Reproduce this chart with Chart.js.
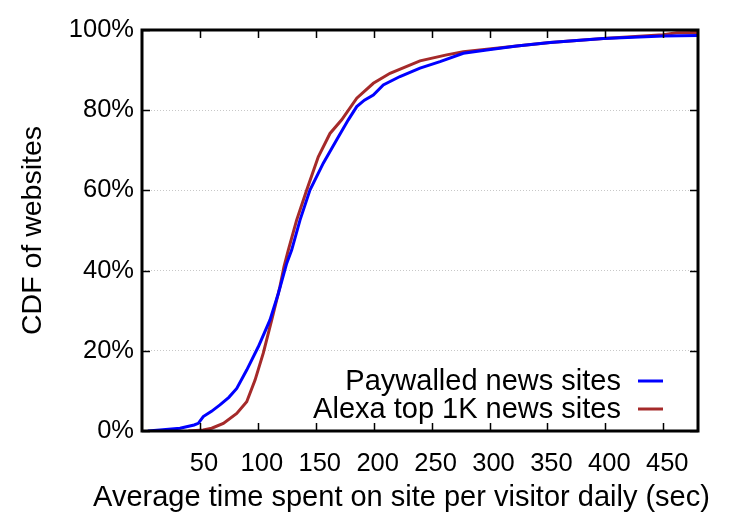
<!DOCTYPE html>
<html>
<head>
<meta charset="utf-8">
<script src="https://cdn.jsdelivr.net/npm/chart.js@4/dist/chart.umd.min.js"></script>
<style>
  html, body { margin: 0; padding: 0; background: #fff; }
  #wrap { width: 750px; height: 525px; }
</style>
</head>
<body>
<div id="wrap"><canvas id="c" width="750" height="525"></canvas></div>
<script>
// ---- data ----
const seriesLabels = ["Paywalled news sites", "Alexa top 1K news sites"];
const paywalledX = [5, 15.5, 32.8, 45, 48.6, 52.9, 60, 67.3, 75, 81.8, 90.4, 100.4, 110.5, 117.7, 124.9, 129.2, 136.4, 145.0, 156.5, 168.1, 178.1, 185.4, 192, 199.7, 208.3, 222.7, 240, 257.3, 277.4, 297.6, 323.5, 352.3, 398.3, 450, 480];
const paywalledY = [0, 0.25, 0.7, 1.5, 1.9, 3.6, 4.9, 6.5, 8.4, 10.6, 15.2, 21.0, 27.7, 34.3, 41.8, 45.1, 52.6, 60.1, 66.8, 72.6, 77.6, 80.9, 82.5, 83.8, 86.3, 88.4, 90.5, 92.1, 94.2, 95.0, 96.0, 96.9, 97.9, 98.5, 98.6];
const alexaX = [40, 52.9, 60.2, 70.2, 81.8, 90.4, 97.6, 104.7, 112.0, 119.1, 122.6, 126.3, 133.5, 142.2, 152.2, 162.3, 172.4, 185.4, 199.7, 214.1, 240.0, 263.0, 277.4, 297.6, 323.5, 352.3, 398.3, 450, 461.6, 480];
const alexaY = [0, 0.25, 0.7, 1.9, 4.4, 7.3, 12.7, 19.4, 27.7, 36.0, 41.0, 45.1, 52.6, 60.1, 68.4, 74.2, 77.6, 83.0, 86.7, 89.2, 92.3, 93.8, 94.6, 95.2, 96.0, 96.9, 97.9, 98.8, 99.3, 99.4];
const xTicks = [50, 100, 150, 200, 250, 300, 350, 400, 450];
const yTicks = [0, 20, 40, 60, 80, 100];
const xTitle = "Average time spent on site per visitor daily (sec)";
const yTitle = "CDF of websites";

const FONT = "'Liberation Sans', Arial, Helvetica, sans-serif";
const colors = ["#0000ff", "#a52a2a"];

function pts(xs, ys) { return xs.map((x, i) => ({ x: x, y: ys[i] })); }

// frame + inward ticks (gnuplot style)
const framePlugin = {
  id: 'frame',
  afterDatasetsDraw(chart) {
    const { ctx, chartArea: a, scales: { x, y } } = chart;
    ctx.save();
    ctx.strokeStyle = '#000';
    ctx.lineWidth = 1.5;
    const L = 8;
    ctx.beginPath();
    xTicks.forEach(v => {
      const px = Math.round(x.getPixelForValue(v)) + 0.5;
      ctx.moveTo(px, a.bottom); ctx.lineTo(px, a.bottom - L);
      ctx.moveTo(px, a.top); ctx.lineTo(px, a.top + L);
    });
    yTicks.forEach(v => {
      const py = Math.round(y.getPixelForValue(v)) + 0.5;
      ctx.moveTo(a.left, py); ctx.lineTo(a.left + L, py);
      ctx.moveTo(a.right, py); ctx.lineTo(a.right - L, py);
    });
    ctx.stroke();
    ctx.lineWidth = 3;
    ctx.strokeRect(a.left, a.top, a.right - a.left, a.bottom - a.top);
    ctx.restore();
  }
};

// x-axis title (wider than the plot area, so drawn unconstrained)
const xTitlePlugin = {
  id: 'xTitle',
  afterDraw(chart) {
    const { ctx } = chart;
    ctx.save();
    ctx.font = "29px " + FONT;
    ctx.fillStyle = '#000';
    ctx.textAlign = 'center';
    ctx.textBaseline = 'alphabetic';
    ctx.fillText(xTitle, 401.5, 506);
    ctx.restore();
  }
};

// legend inside plot, text right-aligned with line sample at right
const legendPlugin = {
  id: 'insideLegend',
  afterDraw(chart) {
    const { ctx } = chart;
    ctx.save();
    ctx.font = "29px " + FONT;
    ctx.textAlign = 'right';
    ctx.textBaseline = 'middle';
    const textRight = 621, lineL = 638, lineR = 663;
    const rows = [381, 409];
    chart.data.datasets.forEach((ds, i) => {
      ctx.fillStyle = '#000';
      ctx.fillText(ds.label, textRight, rows[i] + 1);
      ctx.strokeStyle = ds.borderColor;
      ctx.lineWidth = 3;
      ctx.beginPath();
      ctx.moveTo(lineL, rows[i]); ctx.lineTo(lineR, rows[i]);
      ctx.stroke();
    });
    ctx.restore();
  }
};

new Chart(document.getElementById('c'), {
  type: 'line',
  data: {
    datasets: [
      { label: seriesLabels[0], data: pts(paywalledX, paywalledY), borderColor: colors[0], backgroundColor: colors[0], borderWidth: 3, pointRadius: 0, tension: 0, fill: false },
      { label: seriesLabels[1], data: pts(alexaX, alexaY), borderColor: colors[1], backgroundColor: colors[1], borderWidth: 3, pointRadius: 0, tension: 0, fill: false }
    ]
  },
  options: {
    responsive: false,
    animation: false,
    devicePixelRatio: 1,
    layout: { padding: { top: 30, right: 52, left: 0, bottom: 0 } },
    plugins: { legend: { display: false }, tooltip: { enabled: false } },
    scales: {
      x: {
        type: 'linear', min: 0, max: 480,
        afterFit(s) { s.height = 94; },
        afterBuildTicks(s) { s.ticks = xTicks.map(v => ({ value: v })); },
        grid: { display: false, drawTicks: false },
        border: { display: false },
        ticks: { color: '#000', font: { family: FONT, size: 25.5 }, padding: 18, labelOffset: 4, maxRotation: 0, autoSkip: false },
        title: { display: false, text: xTitle }
      },
      y: {
        type: 'linear', min: 0, max: 100,
        afterFit(s) { s.width = 142; },
        afterBuildTicks(s) { s.ticks = yTicks.map(v => ({ value: v })); },
        grid: {
          display: true, drawTicks: false, lineWidth: 1,
          color: c => (c.tick && (c.tick.value === 0 || c.tick.value === 100)) ? 'rgba(0,0,0,0)' : '#c8c8c8'
        },
        border: { display: false, dash: [1, 2] },
        ticks: { color: '#000', font: { family: FONT, size: 25.5 }, padding: 8, callback: v => v + '%' },
        title: { display: true, text: yTitle, color: '#000', font: { family: FONT, size: 28.5 }, padding: { top: 16, bottom: 0 } }
      }
    }
  },
  plugins: [framePlugin, xTitlePlugin, legendPlugin]
});
</script>
</body>
</html>
